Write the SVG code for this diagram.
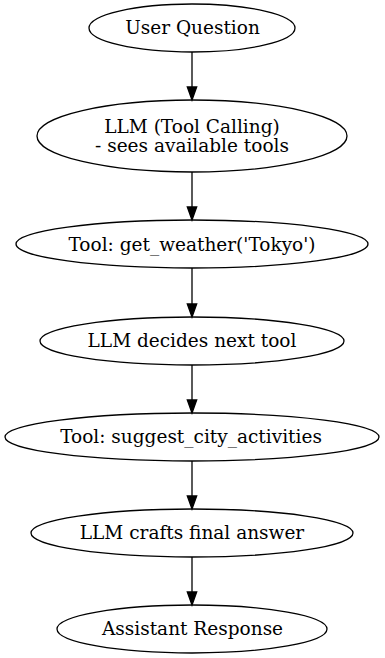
<svg xmlns="http://www.w3.org/2000/svg" width="385" height="658" viewBox="0 0 385 658">
  <style>
    .node ellipse { fill: none; stroke: #000; stroke-width: 1.3; }
    .node text { font-size: 18.5px; fill: #000; text-anchor: middle; }
    .edge line { stroke: #000; stroke-width: 1.3; }
    .edge polygon { fill: #000; stroke: #000; stroke-width: 1.3; }
  </style>
  <rect width="385" height="658" fill="#fff"/>

  <g id="edges" class="edge">
    <line x1="192" y1="52" x2="192" y2="87"/>
    <polygon points="187.3,87 196.7,87 192,100"/>
    <line x1="192" y1="172" x2="192" y2="207"/>
    <polygon points="187.3,207 196.7,207 192,220"/>
    <line x1="192" y1="268" x2="192" y2="304"/>
    <polygon points="187.3,304 196.7,304 192,317"/>
    <line x1="192" y1="365" x2="192" y2="400"/>
    <polygon points="187.3,400 196.7,400 192,413"/>
    <line x1="192" y1="461" x2="192" y2="496"/>
    <polygon points="187.3,496 196.7,496 192,509"/>
    <line x1="192" y1="557" x2="192" y2="592"/>
    <polygon points="187.3,592 196.7,592 192,605"/>
  </g>

  <g font-family="'DejaVu Serif', serif">
    <g id="user_question" class="node">
      <ellipse cx="192" cy="28" rx="103" ry="24"/>
      <text x="192.5" y="34">User Question</text>
    </g>
    <g id="llm_tool_calling" class="node">
      <ellipse cx="192" cy="136" rx="155" ry="36"/>
      <text x="192" y="133">LLM (Tool Calling)</text>
      <text x="192" y="152">- sees available tools</text>
    </g>
    <g id="tool_get_weather" class="node">
      <ellipse cx="192" cy="244" rx="176" ry="24"/>
      <text x="192" y="251">Tool: get_weather('Tokyo')</text>
    </g>
    <g id="llm_decides" class="node">
      <ellipse cx="192" cy="341" rx="152" ry="24"/>
      <text x="192" y="347">LLM decides next tool</text>
    </g>
    <g id="tool_suggest" class="node">
      <ellipse cx="192" cy="437" rx="187" ry="24"/>
      <text x="191" y="443">Tool: suggest_city_activities</text>
    </g>
    <g id="llm_crafts" class="node">
      <ellipse cx="192" cy="533" rx="161" ry="24"/>
      <text x="192" y="539">LLM crafts final answer</text>
    </g>
    <g id="assistant_response" class="node">
      <ellipse cx="192" cy="629" rx="135" ry="24"/>
      <text x="192.5" y="635">Assistant Response</text>
    </g>
  </g>
</svg>
